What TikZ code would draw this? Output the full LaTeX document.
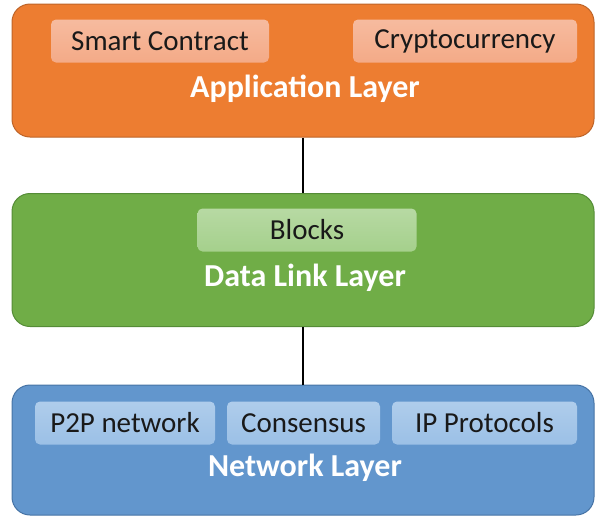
\documentclass[tikz,border=0pt]{standalone}
\usepackage{fontspec}
\setmainfont{Carlito}
\usetikzlibrary{positioning}
\definecolor{apporange}{RGB}{237,125,49}
\definecolor{appedge}{RGB}{190,100,40}
\definecolor{appinner}{RGB}{244,170,135}
\definecolor{linkgreen}{RGB}{112,173,71}
\definecolor{linkedge}{RGB}{85,140,55}
\definecolor{linkinner}{RGB}{165,208,140}
\definecolor{netblue}{RGB}{98,150,205}
\definecolor{netedge}{RGB}{70,115,165}
\definecolor{netinner}{RGB}{155,192,230}
\tikzset{
  layer/.style={draw, rectangle, rounded corners=18pt, line width=1pt, minimum width=582pt, minimum height=133pt},
  item/.style={rectangle, rounded corners=5pt, minimum height=43pt, align=center, font=\fontsize{29}{32}\selectfont, text=black!90},
  title/.style={font=\fontsize{32}{35}\selectfont\bfseries, text=white},
  link/.style={line width=2pt, black},
}
\begin{document}
\begin{tikzpicture}[x=1pt, y=-1pt]
\useasboundingbox (0,0) rectangle (599,517);

% Application layer
\node[layer, fill=apporange, draw=appedge] (app) at (303,70.5) {};
\node[item, top color=appinner!80!white, bottom color=appinner, minimum width=218pt] (smart) at (160,41) {Smart Contract};
\node[item, top color=appinner!80!white, bottom color=appinner, minimum width=224pt] (crypto) at (465,41) {Cryptocurrency};
\node[title] (apptitle) at (305,89) {Application Layer};

% Data link layer
\node[layer, fill=linkgreen, draw=linkedge] (dl) at (303,260) {};
\node[item, top color=linkinner!80!white, bottom color=linkinner, minimum width=219pt] (blocks) at (307,230) {Blocks};
\node[title] (dltitle) at (305,278) {Data Link Layer};

% Network layer
\node[layer, fill=netblue, draw=netedge, minimum height=130pt] (net) at (303,450) {};
\node[item, top color=netinner!80!white, bottom color=netinner, minimum width=180pt] (p2p) at (125,423) {P2P network};
\node[item, top color=netinner!80!white, bottom color=netinner, minimum width=153pt] (cons) at (303.5,423) {Consensus};
\node[item, top color=netinner!80!white, bottom color=netinner, minimum width=185pt] (ip) at (484.5,423) {IP Protocols};
\node[title] (nettitle) at (305,468) {Network Layer};

% Connectors
\draw[link] (app.south) -- (dl.north);
\draw[link] (dl.south) -- (net.north);

\end{tikzpicture}
\end{document}
